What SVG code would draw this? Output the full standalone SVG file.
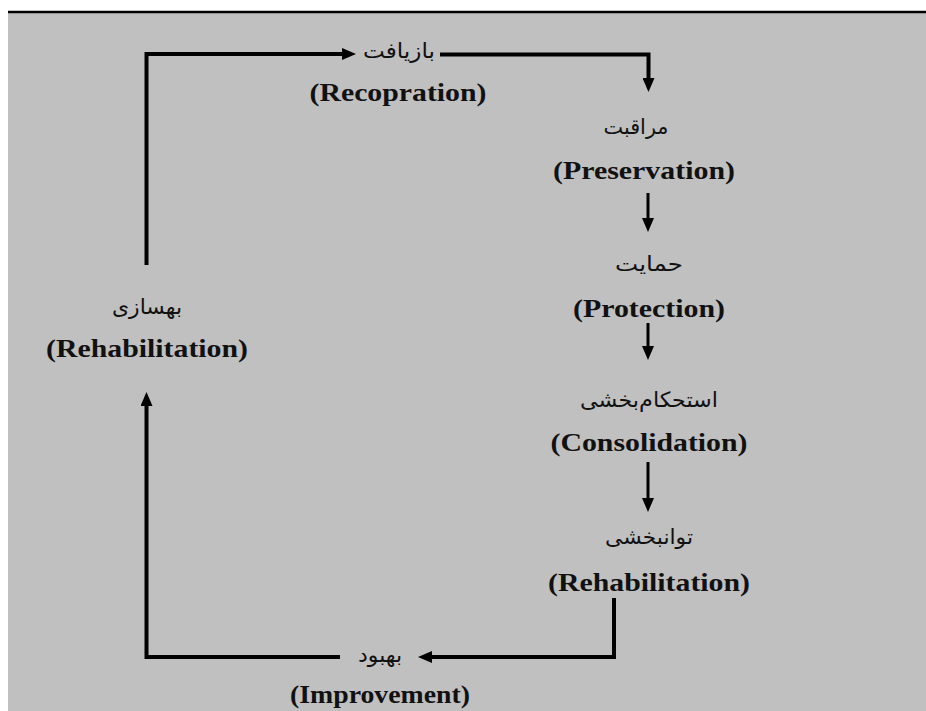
<svg xmlns="http://www.w3.org/2000/svg" width="926" height="711" viewBox="0 0 926 711">
<style>
.en{font-family:"Liberation Serif","Times New Roman",serif;font-weight:bold;font-size:26px;fill:#111;text-anchor:middle}
.fa{font-family:"DejaVu Sans","Noto Sans",sans-serif;font-size:21px;fill:#111;text-anchor:middle}
.loop{fill:none;stroke:#000;stroke-width:4}
.step{fill:none;stroke:#000;stroke-width:3}
</style>
<defs>
<marker id="ah" markerUnits="userSpaceOnUse" markerWidth="14" markerHeight="12" refX="2" refY="6" orient="auto">
<path d="M0,0 L14,6 L0,12 z" fill="#000"/>
</marker>
</defs>
<rect x="8" y="12" width="918" height="699" fill="#c0c0c0"/>
<line x1="8" y1="12" x2="926" y2="12" stroke="#000" stroke-width="2.5"/>
<g id="connectors">
<path class="loop" d="M146.5,265 V54 H344" marker-end="url(#ah)"/>
<path class="loop" d="M440,54.5 H648.5 V80" marker-end="url(#ah)"/>
<path class="step" d="M648,193 V220" marker-end="url(#ah)"/>
<path class="step" d="M648,323 V348" marker-end="url(#ah)"/>
<path class="step" d="M648,462 V500" marker-end="url(#ah)"/>
<path class="loop" d="M614,598 V657 H430" marker-end="url(#ah)"/>
<path class="loop" d="M340,657 H146.5 V404" marker-end="url(#ah)"/>
</g>
<g id="recopration">
<text class="fa" x="399" y="58" textLength="72" lengthAdjust="spacingAndGlyphs">بازیافت</text>
<text class="en" x="398" y="101" textLength="177" lengthAdjust="spacingAndGlyphs">(Recopration)</text>
</g>
<g id="preservation">
<text class="fa" x="636" y="134" textLength="65" lengthAdjust="spacingAndGlyphs">مراقبت</text>
<text class="en" x="644" y="179" textLength="182" lengthAdjust="spacingAndGlyphs">(Preservation)</text>
</g>
<g id="protection">
<text class="fa" x="649" y="271" textLength="68" lengthAdjust="spacingAndGlyphs">حمایت</text>
<text class="en" x="649" y="317" textLength="152" lengthAdjust="spacingAndGlyphs">(Protection)</text>
</g>
<g id="consolidation">
<text class="fa" x="649" y="407" textLength="138" lengthAdjust="spacingAndGlyphs">استحکام‌بخشی</text>
<text class="en" x="649" y="451" textLength="197" lengthAdjust="spacingAndGlyphs">(Consolidation)</text>
</g>
<g id="rehabilitation-right">
<text class="fa" x="649" y="544" textLength="88" lengthAdjust="spacingAndGlyphs">توانبخشی</text>
<text class="en" x="649" y="591" textLength="202" lengthAdjust="spacingAndGlyphs">(Rehabilitation)</text>
</g>
<g id="improvement">
<text class="fa" x="380" y="662" textLength="44" lengthAdjust="spacingAndGlyphs">بهبود</text>
<text class="en" x="380" y="703" textLength="180" lengthAdjust="spacingAndGlyphs">(Improvement)</text>
</g>
<g id="rehabilitation-left">
<text class="fa" x="147" y="314" textLength="70" lengthAdjust="spacingAndGlyphs">بهسازی</text>
<text class="en" x="147" y="357" textLength="202" lengthAdjust="spacingAndGlyphs">(Rehabilitation)</text>
</g>
</svg>
